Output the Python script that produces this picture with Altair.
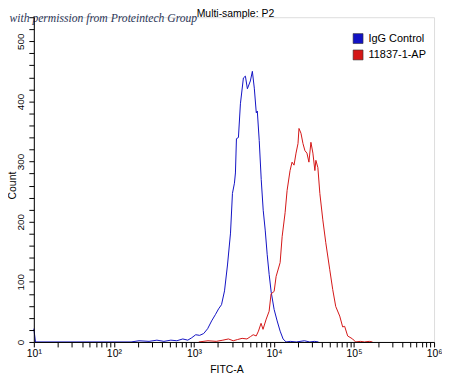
import altair as alt
import pandas as pd

# ---- data ----
series_names = ["IgG Control", "11837-1-AP"]
series_colors = ["#1212c4", "#d41616"]

blue_x = [10, 10.5, 164, 206, 275, 345, 422, 515, 612, 726, 838, 939,
          1053, 1180, 1325, 1484, 1665, 1864, 2032, 2213, 2412, 2627,
          2865, 3030, 3208, 3301, 3399, 3599, 3810, 4152, 4397, 4656,
          5073, 5372, 5682, 6016, 6192, 6546, 6934, 7341, 7776, 8236,
          8716, 9231, 10050, 10960, 11940, 13010, 14170, 16000, 19000, 24000,
          28000, 32000, 36000]
blue_y = [22, 0, 0, 2, 1, 3, 1, 3, 2, 5, 3, 7,
          12, 11, 14, 22, 35, 46, 55, 62, 85, 128,
          181, 247, 264, 281, 338, 340, 396, 439, 442, 421,
          434, 450, 422, 381, 384, 335, 270, 219, 186, 145,
          112, 83, 54, 35, 18, 5, 0, 1, 0, 2,
          0, 1, 0]

red_x = [1150, 1500, 1900, 2300, 2700, 3100, 3500, 4000, 4600, 5100,
         5500, 6000, 6400, 6900, 7300, 8000, 8700, 9200, 10050, 10640,
         11940, 12650, 13780, 14590, 15890, 16830, 17820, 18860, 19970, 20540,
         21750, 23030, 24380, 25820, 27340, 28950, 30650, 32450, 33400, 35360,
         37440, 40770, 44400, 49800, 54230, 59100, 66300, 72200, 76400, 83300,
         96100, 104700, 120000, 135000, 155000, 170000]
red_y = [0, 2, 1, 3, 5, 2, 4, 6, 5, 9,
         12, 10, 18, 31, 21, 38, 51, 80, 84, 109,
         132, 175, 215, 252, 285, 299, 294, 314, 330, 355,
         347, 330, 318, 314, 299, 332, 314, 285, 302, 290,
         247, 203, 165, 120, 87, 59, 43, 25, 26, 10,
         5, 0, 1, 0, 1, 0]

decades = [10, 100, 1000, 10000, 100000, 1000000]
decade_labels = ["10¹", "10²", "10³", "10⁴", "10⁵", "10⁶"]
x_ticks = [m * 10 ** e for e in range(1, 6) for m in range(1, 10)] + [10 ** 6]
y_ticks = list(range(0, 541, 20))

chart_title = "Multi-sample: P2"
x_title = "FITC-A"
y_title = "Count"
watermark = "with permission from Proteintech Group"

FONT = "Liberation Sans"

df = pd.DataFrame({
    "FITC-A": blue_x + red_x,
    "Count": blue_y + red_y,
    "Sample": [series_names[0]] * len(blue_x) + [series_names[1]] * len(red_x),
})
legend_df = pd.DataFrame({"Sample": series_names})

label_expr = " : ".join(
    f"datum.value == {v} ? '{t}'" for v, t in zip(decades, decade_labels)
) + " : ''"

color_scale = alt.Scale(domain=series_names, range=series_colors)

lines = alt.Chart(df).mark_line(strokeWidth=1, interpolate="linear").encode(
    x=alt.X(
        "FITC-A:Q",
        scale=alt.Scale(type="log", domain=[10, 1e6], nice=False),
        axis=alt.Axis(
            values=x_ticks, labelExpr=label_expr, title=x_title, grid=False,
            tickSize=5, tickColor="black", domainColor="black",
            labelFont=FONT, labelFontSize=10.5, labelColor="black", labelPadding=2,
            labelFlush=False, labelOverlap=False,
            titleFont=FONT, titleFontSize=10.5, titleFontWeight="normal", titleColor="black",
            titleX=194, titleY=31, titleBaseline="alphabetic", titleAlign="center",
            zindex=1,
        ),
    ),
    y=alt.Y(
        "Count:Q",
        scale=alt.Scale(domain=[0, 540], nice=False),
        axis=alt.Axis(
            values=y_ticks, labelExpr="datum.value % 100 == 0 ? datum.label : ''",
            grid=False, tickSize=5, tickColor="black", domainColor="black",
            labelFont=FONT, labelFontSize=10, labelColor="black", labelPadding=5,
            labelAngle=270, labelAlign="center", labelBaseline="alphabetic",
            labelOverlap=False,
            title=y_title, titleFont=FONT, titleFontSize=10.5, titleFontWeight="normal",
            titleColor="black", titleAngle=270, titleX=-18.8, titleY=169,
            titleAlign="center", titleBaseline="alphabetic",
            zindex=1,
        ),
    ),
    color=alt.Color("Sample:N", scale=color_scale, legend=None),
)

# off-view filled squares that give the legend filled square symbols
legend_keys = alt.Chart(legend_df).mark_square(size=100).encode(
    x=alt.value(-800), y=alt.value(-800),
    color=alt.Color(
        "Sample:N", scale=color_scale,
        legend=alt.Legend(
            title=None, orient="none", legendX=321, legendY=16,
            symbolType="square", symbolSize=100,
            symbolStrokeColor="#333333", symbolStrokeWidth=0.6, symbolOpacity=1,
            labelFont=FONT, labelFontSize=11, labelColor="black",
            labelOffset=5, rowPadding=3.5, padding=0,
        ),
    ),
)

mark_title = alt.Chart(pd.DataFrame({"t": [chart_title]})).mark_text(
    align="center", baseline="alphabetic", font=FONT, fontSize=10.5, color="black",
).encode(x=alt.value(203), y=alt.value(-0.3), text="t:N")

mark_wm = alt.Chart(pd.DataFrame({"t": [watermark]})).mark_text(
    align="left", baseline="alphabetic", font="Liberation Serif",
    fontStyle="italic", fontSize=11.7, color="#2c3657",
).encode(x=alt.value(-24.5), y=alt.value(4.5), text="t:N")

chart = alt.layer(lines, legend_keys, mark_title, mark_wm).resolve_legend(
    color="independent"
).properties(
    width=403, height=327,
    autosize=alt.AutoSizeParams(type="none"),
    padding={"left": 26, "top": 8, "right": 8, "bottom": 33},
).configure_view(stroke="black", strokeWidth=1).configure(background="white")

chart.save("out.html", embed_options={"renderer": "svg", "actions": False})
